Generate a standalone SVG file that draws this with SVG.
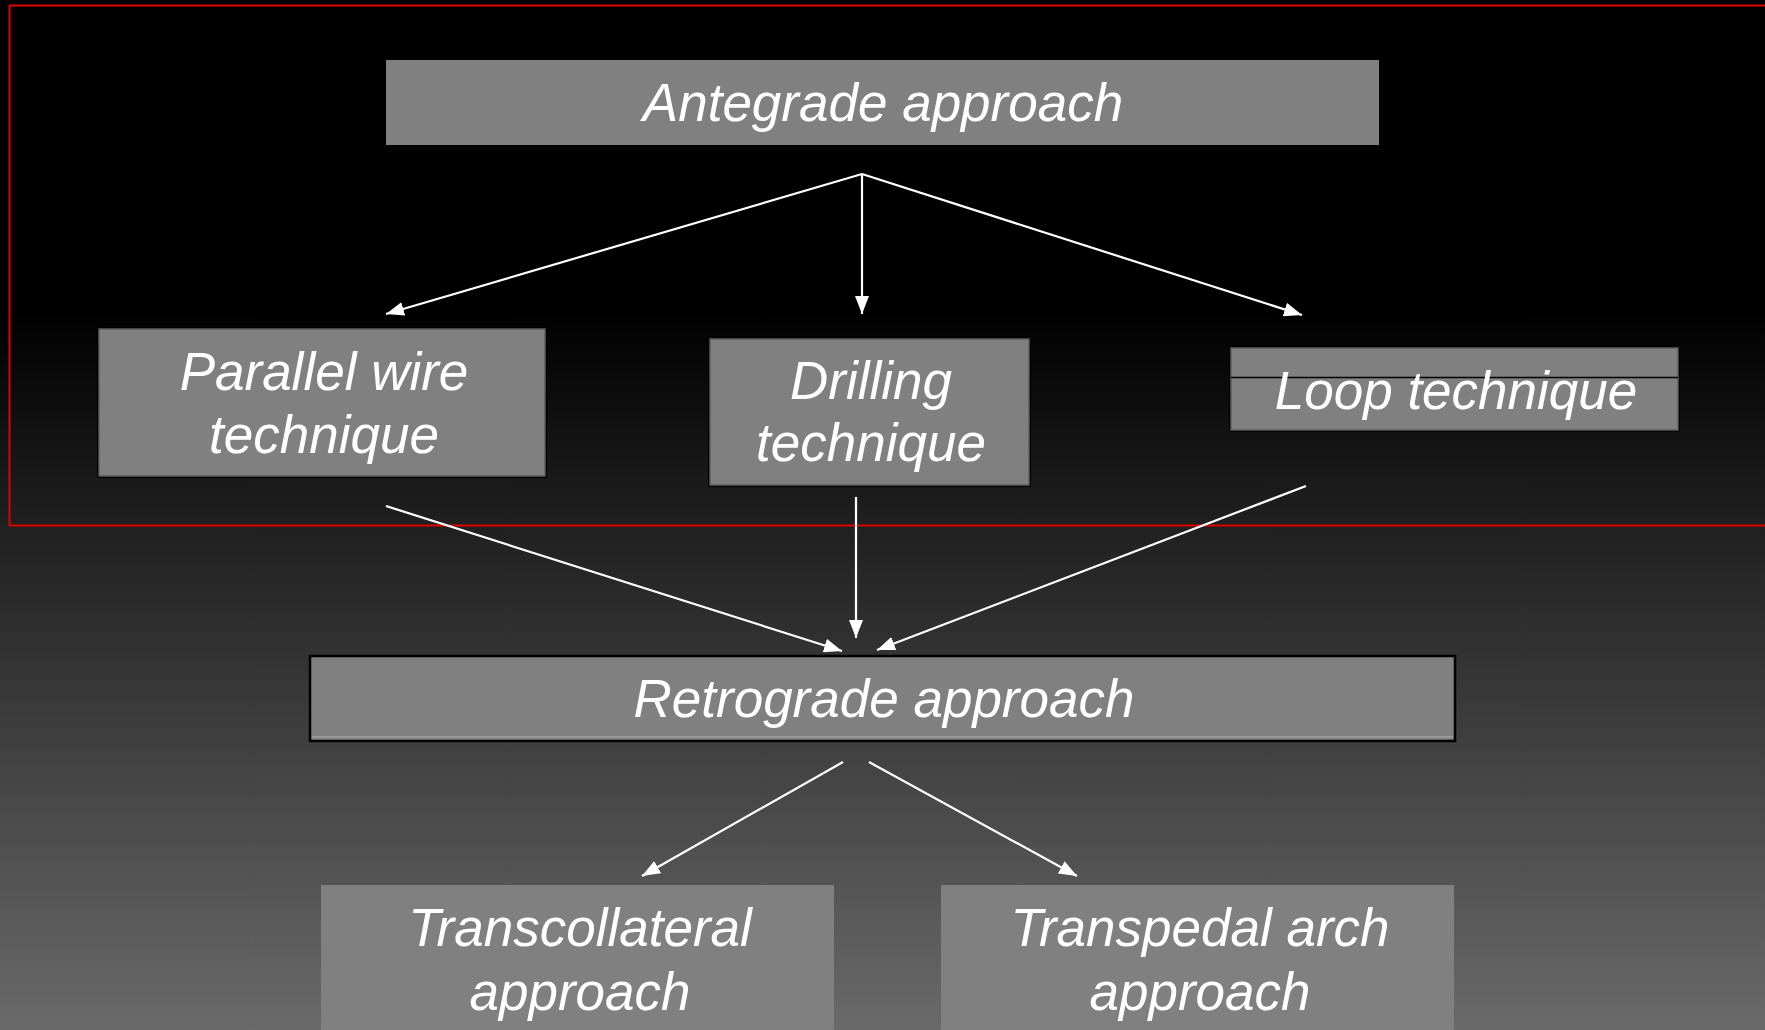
<svg xmlns="http://www.w3.org/2000/svg" width="1765" height="1030" viewBox="0 0 1765 1030">
<defs>
<linearGradient id="bg" x1="0" y1="0" x2="0" y2="1030" gradientUnits="userSpaceOnUse">
<stop offset="0" stop-color="#000"/>
<stop offset="0.3" stop-color="#000"/>
<stop offset="1" stop-color="#6a6a6a"/>
</linearGradient>
<marker id="ah" viewBox="0 0 18 14" refX="18" refY="7" markerWidth="18" markerHeight="14" markerUnits="userSpaceOnUse" orient="auto">
<path d="M0,0 L18,7 L0,14 Z" fill="#fff"/>
</marker>
<style>
.box{fill:#808080}
.sh{fill:#000}
.bd{fill:#808080;stroke:#5e5e5e;stroke-width:1.5}
.t{font-family:"Liberation Sans",Arial,sans-serif;font-style:italic;font-size:53px;fill:#fff;text-anchor:middle}
.ca{stroke:#fff;stroke-width:2.2;fill:none;marker-end:url(#ah)}
</style>
</defs>
<rect width="1765" height="1030" fill="url(#bg)"/>
<rect x="9.5" y="5.5" width="1770" height="520" fill="none" stroke="#e00000" stroke-width="2"/>

<g id="antegrade">
<rect class="box" x="386" y="60" width="993" height="85"/>
<text class="t" x="883" y="121">Antegrade approach</text>
</g>

<g id="parallel">
<rect class="sh" x="97" y="327" width="450" height="151"/>
<rect class="bd" x="99" y="329" width="446" height="147"/>
<text class="t" x="324" y="390">Parallel wire</text>
<text class="t" x="324" y="453">technique</text>
</g>

<g id="drilling">
<rect class="sh" x="708" y="337" width="323" height="150"/>
<rect class="bd" x="710" y="339" width="319" height="146"/>
<text class="t" x="871" y="399">Drilling</text>
<text class="t" x="871" y="461">technique</text>
</g>

<g id="loop">
<rect class="sh" x="1229" y="346" width="451" height="86"/>
<rect class="bd" x="1231" y="348" width="447" height="82"/>
<line x1="1231" y1="377.5" x2="1678" y2="377.5" stroke="#000" stroke-width="1.5"/>
<text class="t" x="1456" y="409">Loop technique</text>
</g>

<g id="retrograde">
<rect x="310" y="656" width="1145" height="85" fill="#808080" stroke="#000" stroke-width="2.5"/>
<line x1="312" y1="737" x2="1453" y2="737" stroke="#a0a0a0" stroke-width="1.5"/>
<text class="t" x="884" y="717">Retrograde approach</text>
</g>

<g id="transcollateral">
<rect class="box" x="321" y="885" width="513" height="150"/>
<text class="t" x="580" y="946">Transcollateral</text>
<text class="t" x="580" y="1010">approach</text>
</g>

<g id="transpedal">
<rect class="box" x="941" y="885" width="513" height="150"/>
<text class="t" x="1200" y="946">Transpedal arch</text>
<text class="t" x="1200" y="1010">approach</text>
</g>

<g id="connectors">
<line class="ca" x1="862" y1="174" x2="386" y2="314"/>
<line class="ca" x1="862" y1="174" x2="862" y2="314"/>
<line class="ca" x1="862" y1="174" x2="1302" y2="315"/>
<line class="ca" x1="386" y1="506" x2="842" y2="651"/>
<line class="ca" x1="856" y1="497" x2="856" y2="638"/>
<line class="ca" x1="1306" y1="486" x2="877" y2="650"/>
<line class="ca" x1="843" y1="762" x2="642" y2="876"/>
<line class="ca" x1="869" y1="762" x2="1077" y2="876"/>
</g>
</svg>
